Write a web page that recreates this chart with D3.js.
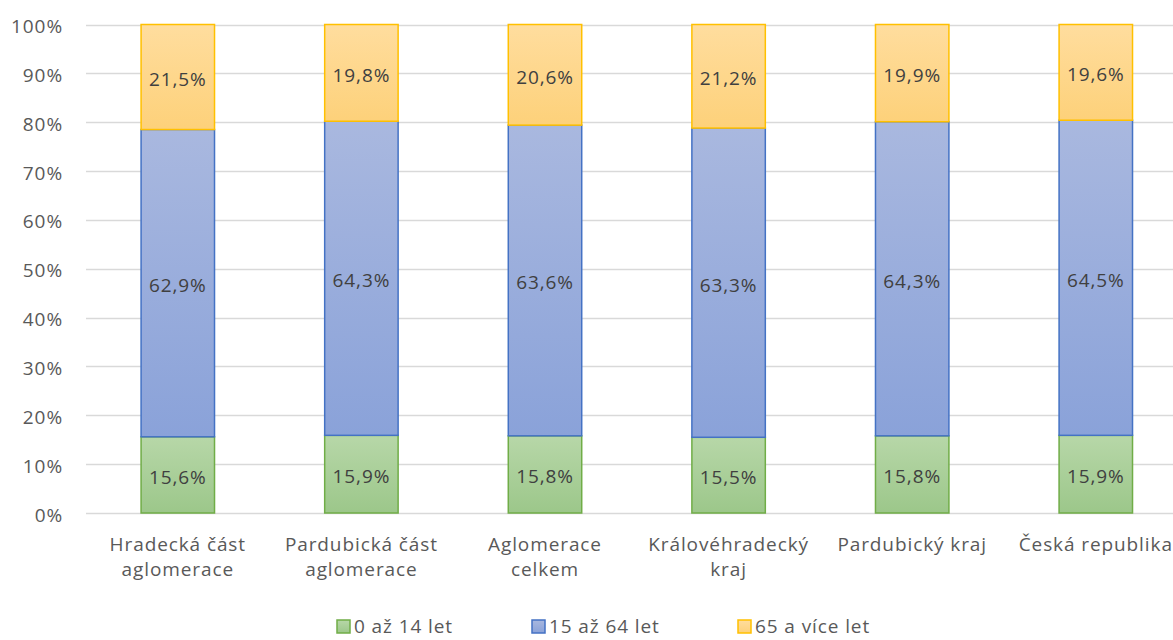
<!DOCTYPE html>
<html>
<head>
<meta charset="utf-8">
<script src="https://cdn.jsdelivr.net/npm/d3@7"></script>
<style>
  body { margin: 0; background: #fff; }
  svg { display: block; font-family: "Open Sans", Lato, sans-serif; letter-spacing: 0.9px; }
</style>
</head>
<body>
<svg id="chart" width="1173" height="640"></svg>
<script>
'use strict';

const categories = [
    ['Hradecká část', 'aglomerace'],
    ['Pardubická část', 'aglomerace'],
    ['Aglomerace', 'celkem'],
    ['Královéhradecký', 'kraj'],
    ['Pardubický kraj'],
    ['Česká republika']
];
const seriesNames = ['0 až 14 let', '15 až 64 let', '65 a více let'];
const young = [15.6, 15.9, 15.8, 15.5, 15.8, 15.9];
const middle = [62.9, 64.3, 63.6, 63.3, 64.3, 64.5];
const old = [21.5, 19.8, 20.6, 21.2, 19.9, 19.6];
const yTicks = [0, 10, 20, 30, 40, 50, 60, 70, 80, 90, 100];

const seriesStyle = [
    {top: '#b7d7a8', bottom: '#9cc78a', stroke: '#70ad47'},
    {top: '#a9b8df', bottom: '#8aa2d9', stroke: '#4472c4'},
    {top: '#ffdd9e', bottom: '#fdd17a', stroke: '#ffc000'}
];

const svg = d3.select('#chart');
const margin = {left: 86, top: 24.5, bottom: 513};
const fontSize = '19px';

const rows = categories.map(function(c, i) {
    return {i: i, young: young[i], middle: middle[i], old: old[i]};
});

const x = d3.scaleBand()
    .domain(d3.range(categories.length))
    .range([margin.left, margin.left + 183.6 * categories.length])
    .paddingInner(0.6)
    .paddingOuter(0.3);

const y = d3.scaleLinear().domain([0, 100]).range([margin.bottom, margin.top]);

// gradients
const defs = svg.append('defs');
seriesStyle.forEach(function(s, k) {
    const g = defs.append('linearGradient')
        .attr('id', 'grad' + k)
        .attr('x1', 0).attr('y1', 0).attr('x2', 0).attr('y2', 1);
    g.append('stop').attr('offset', '0%').attr('stop-color', s.top);
    g.append('stop').attr('offset', '100%').attr('stop-color', s.bottom);
});

// gridlines
svg.append('g')
    .selectAll('line')
    .data(yTicks)
    .enter()
    .append('line')
    .attr('x1', margin.left)
    .attr('x2', 1173)
    .attr('y1', function(d) {return Math.round(y(d)) + 0.5;})
    .attr('y2', function(d) {return Math.round(y(d)) + 0.5;})
    .style('stroke', '#d9d9d9')
    .style('stroke-width', 1.3);

// y axis labels
svg.append('g')
    .selectAll('text')
    .data(yTicks)
    .enter()
    .append('text')
    .attr('x', 63)
    .attr('y', function(d) {return y(d);})
    .attr('dy', '0.45em')
    .attr('text-anchor', 'end')
    .style('font-size', fontSize)
    .style('fill', '#595959')
    .text(function(d) {return d + '%';});

const stack = d3.stack().keys(['young', 'middle', 'old']);
const layers = stack(rows);

const fmt = function(v) {return v.toFixed(1).replace('.', ',') + '%';};

layers.forEach(function(layer, k) {
    const g = svg.append('g');
    g.selectAll('rect')
        .data(layer)
        .enter()
        .append('rect')
        .attr('x', function(d) {return x(d.data.i);})
        .attr('width', x.bandwidth())
        .attr('y', function(d) {return y(Math.min(d[1], 100));})
        .attr('height', function(d) {return y(d[0]) - y(Math.min(d[1], 100));})
        .style('fill', 'url(#grad' + k + ')')
        .style('stroke', seriesStyle[k].stroke)
        .style('stroke-width', 1.5);

    g.selectAll('text')
        .data(layer)
        .enter()
        .append('text')
        .attr('x', function(d) {return x(d.data.i) + x.bandwidth() / 2;})
        .attr('y', function(d) {return y((d[0] + Math.min(d[1], 100)) / 2);})
        .attr('dy', '0.47em')
        .attr('text-anchor', 'middle')
        .style('font-size', fontSize)
        .style('fill', '#404040')
        .text(function(d) {return fmt(d[1] - d[0]);});
});

// category labels
const cat = svg.append('g')
    .selectAll('text')
    .data(categories)
    .enter()
    .append('text')
    .attr('x', function(d, i) {return x(i) + x.bandwidth() / 2;})
    .attr('y', 551)
    .attr('text-anchor', 'middle')
    .style('font-size', fontSize)
    .style('fill', '#595959');

cat.selectAll('tspan')
    .data(function(d) {return d;})
    .enter()
    .append('tspan')
    .attr('x', function() {return d3.select(this.parentNode).attr('x');})
    .attr('dy', function(d, j) {return j === 0 ? 0 : 25;})
    .text(function(d) {return d;});

// legend
const legendX = [337, 532, 738];
const legend = svg.append('g')
    .selectAll('g')
    .data(seriesNames)
    .enter()
    .append('g')
    .attr('transform', function(d, i) {return 'translate(' + legendX[i] + ',620)';});

legend.append('rect')
    .attr('width', 13)
    .attr('height', 13)
    .style('fill', function(d, i) {return 'url(#grad' + i + ')';})
    .style('stroke', function(d, i) {return seriesStyle[i].stroke;})
    .style('stroke-width', 1.5);

legend.append('text')
    .attr('x', 17)
    .attr('y', 6.5)
    .attr('dy', '0.35em')
    .style('font-size', fontSize)
    .style('fill', '#595959')
    .text(function(d) {return d;});
</script>
</body>
</html>
